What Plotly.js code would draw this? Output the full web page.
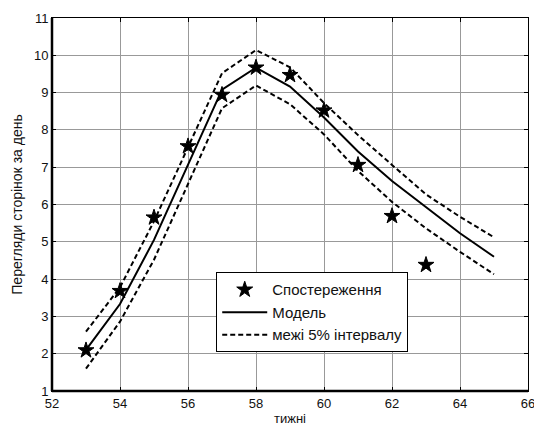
<!DOCTYPE html>
<html>
<head>
<meta charset="utf-8">
<script src="https://cdn.plot.ly/plotly-3.0.1.min.js"></script>
<style>html,body{margin:0;padding:0;background:#fff;}#chart{width:534px;height:426px;}</style>
</head>
<body>
<div id="chart"></div>
<script>
const obsWeeks = [53, 54, 55, 56, 57, 58, 59, 60, 61, 62, 63];
const obsValues = [2.09, 3.68, 5.65, 7.56, 8.94, 9.67, 9.47, 8.52, 7.06, 5.69, 4.38];

const modelWeeks = [53, 54, 55, 56, 57, 58, 59, 60, 61, 62, 63, 64, 65];
const modelValues = [2.1, 3.33, 5.05, 7.05, 9.08, 9.67, 9.16, 8.33, 7.42, 6.63, 5.92, 5.23, 4.6];
const upperValues = [2.59, 3.78, 5.55, 7.55, 9.52, 10.14, 9.68, 8.72, 7.86, 7.06, 6.27, 5.67, 5.12];
const lowerValues = [1.6, 2.86, 4.52, 6.55, 8.58, 9.19, 8.69, 7.88, 6.9, 6.07, 5.36, 4.73, 4.13];

const xTicks = [52, 54, 56, 58, 60, 62, 64, 66];
const yTicks = [1, 2, 3, 4, 5, 6, 7, 8, 9, 10, 11];

const fam = 'Liberation Sans, Arial, sans-serif';
const font = {family: fam, size: 13, color: '#111'};

const traces = [
  {x: obsWeeks, y: obsValues, mode: 'markers', name: 'Спостереження',
   marker: {symbol: 'star', size: 12, color: '#000', line: {color: '#000', width: 1}}},
  {x: modelWeeks, y: modelValues, mode: 'lines', name: 'Модель',
   line: {color: '#000', width: 2}},
  {x: modelWeeks, y: upperValues, mode: 'lines', name: 'межі 5% інтервалу',
   line: {color: '#000', width: 2, dash: '5px,3px'}},
  {x: modelWeeks, y: lowerValues, mode: 'lines', name: 'lower', showlegend: false,
   line: {color: '#000', width: 2, dash: '5px,3px'}}
];

const layout = {
  width: 534, height: 426,
  margin: {l: 52, r: 6, t: 18, b: 35},
  paper_bgcolor: '#fff', plot_bgcolor: '#fff',
  font: font,
  showlegend: true,
  legend: {x: 0.345, y: 0.318, xanchor: 'left', yanchor: 'top',
    bgcolor: '#fff', bordercolor: '#000', borderwidth: 1,
    font: {family: fam, size: 15, color: '#111'}, itemwidth: 45, tracegroupgap: 0},
  xaxis: {range: [52, 66], tickvals: xTicks, ticktext: xTicks.map(String),
    showgrid: true, gridcolor: '#999', gridwidth: 1, zeroline: false,
    showline: true, linecolor: '#000', linewidth: 1, mirror: 'ticks',
    ticks: 'inside', ticklen: 4, tickcolor: '#000', ticklabeloverflow: 'allow',
    title: {text: 'тижні', font: {family: fam, size: 13, color: '#111'}, standoff: 6},
    tickfont: font},
  yaxis: {range: [1, 11], tickvals: yTicks, ticktext: yTicks.map(String),
    showgrid: true, gridcolor: '#999', gridwidth: 1, zeroline: false,
    showline: true, linecolor: '#000', linewidth: 1, mirror: 'ticks',
    ticks: 'inside', ticklen: 4, tickcolor: '#000', ticklabeloverflow: 'allow',
    title: {text: 'Перегляди сторінок за день', font: {family: fam, size: 14, color: '#111'}, standoff: 8},
    tickfont: font},
  shapes: [
    {type: 'line', xref: 'paper', yref: 'paper', x0: 0, x1: 1, y0: 0, y1: 0, line: {color: '#000', width: 2.5}},
    {type: 'line', xref: 'paper', yref: 'paper', x0: 0, x1: 0, y0: 0, y1: 1, line: {color: '#000', width: 2.5}}
  ]
};

Plotly.newPlot('chart', traces, layout, {displayModeBar: false, staticPlot: true});
</script>
</body>
</html>
